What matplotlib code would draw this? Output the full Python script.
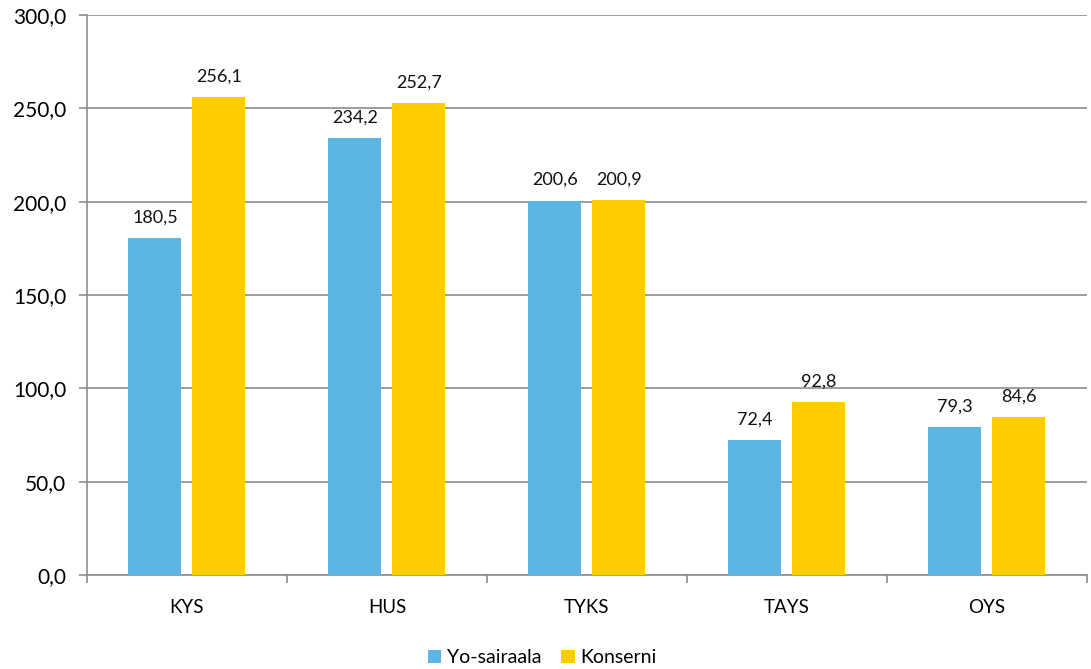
import numpy as np
import matplotlib
matplotlib.use("Agg")
import matplotlib.pyplot as plt

plt.rcParams['font.family'] = ['Lato', 'DejaVu Sans']

## data
categories = ["KYS", "HUS", "TYKS", "TAYS", "OYS"]
yo_sairaala = [180.5, 234.2, 200.6, 72.4, 79.3]
konserni = [256.1, 252.7, 200.9, 92.8, 84.6]
series_names = ["Yo-sairaala", "Konserni"]
colors = ["#5DB5E3", "#FFCC00"]

def fi(v):
    return f"{v:.1f}".replace(".", ",")

fig = plt.figure(figsize=(10.91, 6.69), dpi=100)
ax = fig.add_axes([0.0797, 0.1405, 0.9166, 0.8371])

x = np.arange(len(categories))
w = 0.265
b1 = ax.bar(x - 0.16, yo_sairaala, w, color=colors[0], label=series_names[0], zorder=3)
b2 = ax.bar(x + 0.16, konserni, w, color=colors[1], label=series_names[1], zorder=3)

for bars in (b1, b2):
    for r in bars:
        h = r.get_height()
        ax.annotate(fi(h), (r.get_x() + r.get_width() / 2, h), xytext=(0, 9),
                    textcoords="offset points", ha="center", va="bottom", fontsize=13, color="#111111")

ax.set_ylim(0, 300)
ax.set_xlim(-0.5, len(categories) - 0.5)
ax.set_yticks(np.arange(0, 301, 50))
ax.set_yticklabels([fi(v) for v in np.arange(0, 301, 50)], fontsize=15)
ax.yaxis.grid(True, color="#8C8C8C", linewidth=1.2, zorder=0)

# ticks between groups, labels at centres
ax.set_xticks(np.arange(-0.5, len(categories), 1.0))
ax.set_xticklabels([])
ax.set_xticks(x, minor=True)
ax.set_xticklabels(categories, minor=True, fontsize=13.5)
ax.tick_params(axis="x", which="minor", length=0, pad=17)
ax.tick_params(axis="x", which="major", length=6, color="#8C8C8C", width=1.2)
ax.tick_params(axis="y", length=6, color="#8C8C8C", width=1.2, pad=9)

for s in ["top", "right"]:
    ax.spines[s].set_visible(False)
for s in ["left", "bottom"]:
    ax.spines[s].set_color("#8C8C8C")
    ax.spines[s].set_linewidth(1.2)

fig.legend(loc="lower center", bbox_to_anchor=(0.497, -0.022), ncol=2, frameon=False,
           fontsize=14, handlelength=0.7, handleheight=0.7, handletextpad=0.3, columnspacing=1.0)

fig.savefig("out.png", dpi=100)
